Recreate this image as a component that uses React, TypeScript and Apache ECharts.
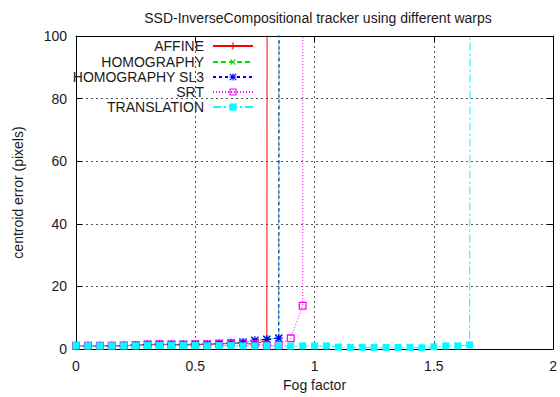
import React, { useEffect, useRef } from "react";
import * as echarts from "echarts";

const fogFactor = [0, 0.05, 0.1, 0.15, 0.2, 0.25, 0.3, 0.35, 0.4, 0.45, 0.5, 0.55, 0.6, 0.65, 0.7, 0.75, 0.8, 0.85, 0.9, 0.95, 1.0, 1.05, 1.1, 1.15, 1.2, 1.25, 1.3, 1.35, 1.4, 1.45, 1.5, 1.55, 1.6, 1.65, 1.7];

const affine = [1.0, 1.0, 1.0, 1.0, 1.1, 1.2, 1.3, 1.4, 1.4, 1.4, 1.4, 1.5, 1.6, 1.8, 1.9, 1.4, 3.0, 4800];
const homography = [1.0, 1.0, 1.0, 1.0, 1.1, 1.2, 1.4, 1.5, 1.4, 1.4, 1.5, 1.6, 1.7, 1.9, 2.1, 2.7, 3.1, 3.4, 5200];
const homographySL3 = [1.0, 1.0, 1.0, 1.0, 1.1, 1.3, 1.5, 1.6, 1.5, 1.5, 1.6, 1.6, 1.8, 2.0, 2.2, 2.8, 3.1, 3.5, 5100];
const srt = [1.0, 1.0, 1.0, 1.0, 1.1, 1.2, 1.4, 1.5, 1.4, 1.4, 1.5, 1.5, 1.7, 1.8, 1.9, 1.6, 1.1, 1.3, 3.4, 13.8, 6000];
const translation = [1.1, 1.0, 1.0, 1.0, 1.0, 1.0, 1.1, 1.1, 1.1, 1.1, 1.1, 1.0, 1.1, 1.1, 1.0, 1.0, 1.0, 1.0, 0.9, 1.0, 1.0, 1.0, 0.6, 0.5, 0.5, 0.5, 0.5, 0.5, 0.5, 0.4, 0.7, 1.0, 1.0, 1.3, 2600];

const seriesNames = ["AFFINE", "HOMOGRAPHY", "HOMOGRAPHY SL3", "SRT", "TRANSLATION"];
const xTicks = [0, 0.5, 1, 1.5, 2];
const yTicks = [0, 20, 40, 60, 80, 100];

const PLUS = "path://M4.2,0H5.8V10H4.2ZM0,4.2H10V5.8H0Z";
const STAR = "path://M4.2,0H5.8V10H4.2ZM0,4.2H10V5.8H0ZM0,1.1L1.1,0L10,8.9L8.9,10ZM8.9,0L10,1.1L1.1,10L0,8.9Z";
const OPENBOX = "path://M0,0H10V10H0ZM1.6,1.6V8.4H8.4V1.6Z";

const FONT = "Liberation Sans";
const TXT = "#1a1a1a";

function pairs(vals: number[]) {
  return vals.map((v, i) => [fogFactor[i], v]);
}

export default function App() {
  const ref = useRef<HTMLDivElement>(null);
  useEffect(() => {
    if (!ref.current) return;
    const chart = echarts.init(ref.current, null, { renderer: "svg" });
    const styles = [
      { color: "#ff0000", type: "solid" as any, symbol: PLUS, size: 8, rotate: 0 },
      { color: "#00e000", type: [5, 3] as any, symbol: PLUS, size: 9, rotate: 45 },
      { color: "#0000ff", type: [3, 3] as any, symbol: STAR, size: 8, rotate: 0 },
      { color: "#ff00ff", type: [1, 2] as any, symbol: OPENBOX, size: 8, rotate: 0 },
      { color: "#00ffff", type: [8, 3, 2, 3] as any, symbol: "rect", size: 7, rotate: 0 },
    ];
    const datas = [affine, homography, homographySL3, srt, translation];
    const legendCenters = [46, 62, 77, 92, 107];
    const option: any = {
      animation: false,
      backgroundColor: "#ffffff",
      title: {
        text: "SSD-InverseCompositional tracker using different warps",
        left: 313,
        textAlign: "center",
        top: 6,
        textStyle: { fontFamily: FONT, fontSize: 14, fontWeight: "normal", color: TXT },
      },
      legend: seriesNames.map((n, i) => ({
        data: [n],
        orient: "vertical",
        align: "right",
        right: 306,
        top: legendCenters[i] - 7,
        padding: 0,
        itemWidth: 40,
        itemHeight: 9,
        symbolRotate: "inherit",
        selectedMode: false,
        textStyle: { fontFamily: FONT, fontSize: 14, color: TXT, padding: [0, 4, 0, 0] },
      })),
      grid: { left: 76, right: 5, top: 36, bottom: 48, containLabel: false },
      xAxis: [
        {
          type: "value",
          min: 0,
          max: 2,
          interval: 0.5,
          name: "Fog factor",
          nameLocation: "middle",
          nameGap: 19,
          nameTextStyle: { fontFamily: FONT, fontSize: 14, color: TXT },
          axisLine: { show: true, lineStyle: { color: "#000", width: 1 } },
          axisTick: { show: true, inside: true, length: 6, lineStyle: { color: "#000" } },
          axisLabel: {
            fontFamily: FONT, fontSize: 14, color: TXT, margin: 10,
            formatter: (v: number) => (xTicks.includes(v) ? String(v) : ""),
          },
          splitLine: { show: true, lineStyle: { color: "#555", type: [2, 3], width: 1 } },
        },
        {
          type: "value",
          position: "top",
          min: 0,
          max: 2,
          interval: 0.5,
          axisLine: { show: true, onZero: false, lineStyle: { color: "#000", width: 1 } },
          axisTick: { show: true, inside: true, length: 6, lineStyle: { color: "#000" } },
          axisLabel: { show: false },
          splitLine: { show: false },
        },
      ],
      yAxis: [
        {
          type: "value",
          min: 0,
          max: 100,
          interval: 20,
          name: "centroid error (pixels)",
          nameLocation: "middle",
          nameGap: 51,
          nameRotate: 90,
          nameTextStyle: { fontFamily: FONT, fontSize: 14, color: TXT },
          axisLine: { show: true, lineStyle: { color: "#000", width: 1 } },
          axisTick: { show: true, inside: true, length: 6, lineStyle: { color: "#000" } },
          axisLabel: {
            fontFamily: FONT, fontSize: 14, color: TXT, margin: 9,
            formatter: (v: number) => (yTicks.includes(v) ? String(v) : ""),
          },
          splitLine: { show: true, lineStyle: { color: "#555", type: [2, 3], width: 1 } },
        },
        {
          type: "value",
          position: "right",
          min: 0,
          max: 100,
          interval: 20,
          axisLine: { show: true, onZero: false, lineStyle: { color: "#000", width: 1 } },
          axisTick: { show: true, inside: true, length: 6, lineStyle: { color: "#000" } },
          axisLabel: { show: false },
          splitLine: { show: false },
        },
      ],
      series: seriesNames.map((n, i) => ({
        name: n,
        type: "line",
        xAxisIndex: 0,
        yAxisIndex: 0,
        data: pairs(datas[i]),
        clip: true,
        symbol: styles[i].symbol,
        symbolSize: styles[i].size,
        symbolRotate: styles[i].rotate,
        showAllSymbol: true,
        color: styles[i].color,
        itemStyle: { color: styles[i].color, borderWidth: 0 },
        lineStyle: { color: styles[i].color, width: 1, type: styles[i].type },
        emphasis: { disabled: true },
      })),
    };
    chart.setOption(option);
    return () => chart.dispose();
  }, []);
  return (
    <div
      ref={ref}
      style={{ position: "fixed", left: 0, top: 0, width: 560, height: 397, overflow: "hidden" }}
    />
  );
}
